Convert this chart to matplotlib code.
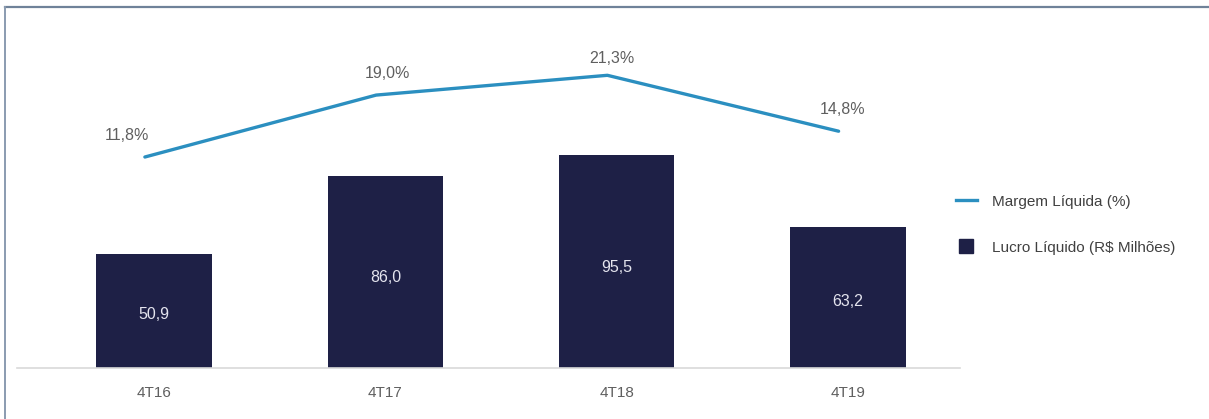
import matplotlib.pyplot as plt
from matplotlib.lines import Line2D

plt.rcParams['font.family'] = ['Liberation Sans', 'DejaVu Sans']

# data
quarters = ["4T16", "4T17", "4T18", "4T19"]
lucro = [50.9, 86.0, 95.5, 63.2]          # Lucro Líquido (R$ Milhões)
margem = [11.8, 19.0, 21.3, 14.8]         # Margem Líquida (%)
lucro_labels = ["50,9", "86,0", "95,5", "63,2"]
margem_labels = ["11,8%", "19,0%", "21,3%", "14,8%"]

W, H = 1209, 419
fig = plt.figure(figsize=(W / 100, H / 100), dpi=100)

# axes box in pixels: x 17..960, y 20..368
x0, x1, ytop, ybot = 17, 960, 20, 368
ax = fig.add_axes([x0 / W, 1 - ybot / H, (x1 - x0) / W, (ybot - ytop) / H])

bar_color = '#1e2046'
line_color = '#2b8fc0'
txt_gray = '#5f5f5f'

xs = list(range(len(quarters)))
ax.bar(xs, lucro, width=0.5, color=bar_color, zorder=2)
for x, v, lab in zip(xs, lucro, lucro_labels):
    ax.text(x, v * 0.47, lab, ha='center', va='center', color='#e4e4ee', fontsize=11.5)

ax.set_xlim(-0.593, 3.485)
ax.set_ylim(0, 156)
ax.set_yticks([])
ax.set_xticks(xs)
ax.set_xticklabels(quarters, fontsize=11, color=txt_gray)
ax.tick_params(axis='x', length=0, pad=13)
for s in ['top', 'right', 'left']:
    ax.spines[s].set_visible(False)
ax.spines['bottom'].set_color('#d9d9d9')
ax.spines['bottom'].set_linewidth(1.2)

ax2 = ax.twinx()
ax2.set_ylim(-12.73, 27.73)
lx = [x - 0.04 for x in xs]
ax2.plot(lx, margem, color=line_color, lw=2.4, solid_capstyle='round', zorder=3)
offsets = [(-13, 10), (8, 10), (3, 7), (3, 10)]
for x, v, lab, off in zip(lx, margem, margem_labels, offsets):
    ax2.annotate(lab, (x, v), xytext=off, textcoords='offset points',
                 ha='center', va='bottom', color=txt_gray, fontsize=11.5)
ax2.set_yticks([])
for s in ax2.spines.values():
    s.set_visible(False)

handles = [Line2D([0], [0], color=line_color, lw=2.4),
           Line2D([0], [0], marker='s', color='none', markerfacecolor=bar_color,
                  markeredgecolor=bar_color, markersize=10)]
fig.legend(handles, ["Margem Líquida (%)", "Lucro Líquido (R$ Milhões)"],
           loc='upper left', bbox_to_anchor=(942 / W, 1 - 181 / H), frameon=False,
           fontsize=11, labelspacing=2.1, handlelength=1.4, handletextpad=1.0,
           labelcolor='#404040')

# frame lines (top and left)
fig.add_artist(Line2D([5 / W, 1], [1 - 7 / H, 1 - 7 / H], color='#6f8299', lw=1.6,
                      transform=fig.transFigure))
fig.add_artist(Line2D([5 / W, 5 / W], [0, 1 - 7 / H], color='#8a9bb0', lw=1.4,
                      transform=fig.transFigure))

fig.savefig('out.png', dpi=100)
